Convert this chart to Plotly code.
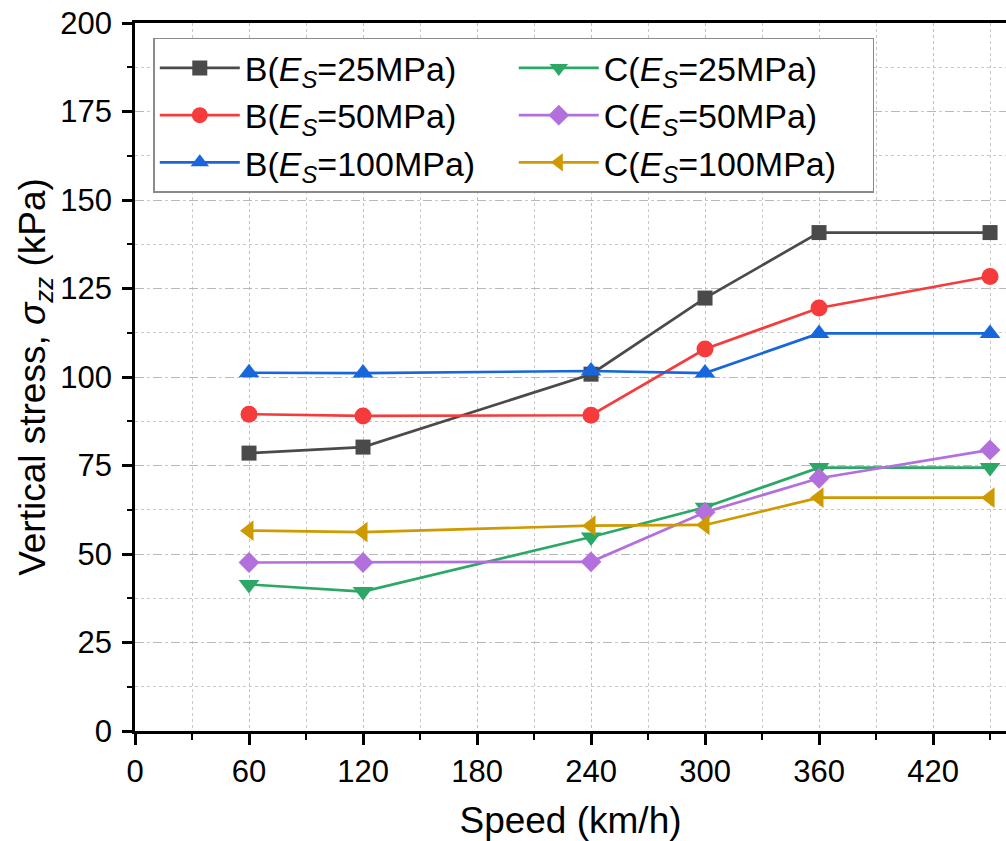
import plotly.graph_objects as go

# Train speed (km/h) at each computed case
speed = [60, 120, 240, 300, 360, 450]

# Vertical stress sigma_zz (kPa) at points B and C for three subgrade moduli
b_25 = [78.5, 80.2, 100.8, 122.3, 140.8, 140.8]
b_50 = [89.5, 89.0, 89.2, 107.9, 119.5, 128.4]
b_100 = [101.2, 101.1, 101.7, 101.1, 112.3, 112.3]
c_25 = [41.4, 39.4, 54.8, 63.2, 74.4, 74.4]
c_50 = [47.6, 47.6, 47.8, 61.8, 71.4, 79.4]
c_100 = [56.6, 56.2, 58.0, 58.2, 65.9, 65.9]

x_ticks = [0, 60, 120, 180, 240, 300, 360, 420]
y_ticks = [0, 25, 50, 75, 100, 125, 150, 175, 200]

FONT = "Liberation Sans, Arial, sans-serif"

series = [
    ("B(<i>E</i><sub><i>S</i></sub>=25MPa)", b_25, "#4a4a4a", "square", 15, 1),
    ("B(<i>E</i><sub><i>S</i></sub>=50MPa)", b_50, "#f53b3b", "circle", 17, 3),
    ("B(<i>E</i><sub><i>S</i></sub>=100MPa)", b_100, "#1766dc", "triangle-up", 18, 5),
    ("C(<i>E</i><sub><i>S</i></sub>=25MPa)", c_25, "#2ca866", "triangle-down", 18, 2),
    ("C(<i>E</i><sub><i>S</i></sub>=50MPa)", c_50, "#b36fdc", "diamond", 16, 4),
    ("C(<i>E</i><sub><i>S</i></sub>=100MPa)", c_100, "#cf9a00", "triangle-left", 18, 6),
]

fig = go.Figure()
for name, vals, color, symbol, size, rank in series:
    fig.add_trace(go.Scatter(
        x=speed, y=vals, name=name, mode="lines+markers",
        line=dict(color=color, width=2.7),
        marker=dict(symbol=symbol, size=size, color=color, line=dict(width=0)),
        legendrank=rank,
    ))

fig.update_layout(
    width=1006, height=841,
    margin=dict(l=135, r=0, t=23, b=110),
    paper_bgcolor="white", plot_bgcolor="white",
    font=dict(family=FONT, size=31, color="black"),
    showlegend=True,
    legend=dict(
        orientation="h", x=0.021, y=0.979, xanchor="left", yanchor="top",
        entrywidth=264, entrywidthmode="pixels", itemwidth=80,
        bgcolor="white", bordercolor="#8a8a8a", borderwidth=1.5,
        font=dict(family=FONT, size=34, color="black"),
        traceorder="normal",
    ),
    xaxis=dict(
        range=[0, 458.4], tickvals=x_ticks, ticktext=[str(v) for v in x_ticks],
        showline=True, linecolor="black", linewidth=2.5, mirror=True,
        ticks="outside", ticklen=11, tickwidth=2.5, tickcolor="black",
        showgrid=True, gridcolor="#c0c0c0", gridwidth=1, griddash="dot",
        minor=dict(dtick=30, tick0=0, ticks="outside", ticklen=6, tickwidth=2,
                   tickcolor="black", showgrid=True, gridcolor="#c8c8c8",
                   gridwidth=1, griddash="dot"),
        zeroline=False,
        title=dict(text="Speed (km/h)", font=dict(size=37), standoff=22),
        tickfont=dict(size=31),
    ),
    yaxis=dict(
        range=[0, 200], tickvals=y_ticks, ticktext=[str(v) for v in y_ticks],
        showline=True, linecolor="black", linewidth=2.5, mirror=False,
        ticks="outside", ticklen=10, tickwidth=2.5, tickcolor="black",
        showgrid=True, gridcolor="#b8b8b8", gridwidth=1.2, griddash="dash",
        minor=dict(dtick=12.5, tick0=0, ticks="outside", ticklen=5, tickwidth=2,
                   tickcolor="black", showgrid=True, gridcolor="#c8c8c8",
                   gridwidth=1, griddash="dot"),
        zeroline=False,
        ticklabelstandoff=4,
        title=dict(text="Vertical stress, <i>σ</i><sub><i>zz</i></sub> (kPa)",
                   font=dict(size=37), standoff=4),
        tickfont=dict(size=31),
    ),
)

fig.write_html("out.html")
